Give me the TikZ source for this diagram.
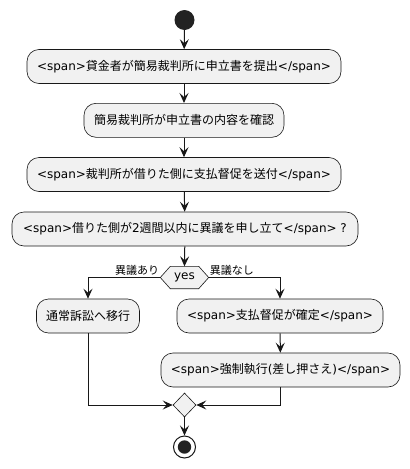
\documentclass[tikz,border=0pt]{standalone}
\usepackage{fontspec}
\setmainfont{DejaVu Sans}
\newfontfamily\cjkfont{Noto Sans CJK JP}
\newcommand\jp[1]{{\cjkfont #1}}
\usetikzlibrary{arrows.meta,shapes.geometric}
\definecolor{actfill}{HTML}{F1F1F1}
\definecolor{linecol}{HTML}{181818}
\definecolor{dotcol}{HTML}{222222}
\begin{document}
\begin{tikzpicture}[x=1pt,y=-1pt,
  act/.style={draw=linecol, fill=actfill, rounded corners=12pt, line width=0.6pt,
    minimum height=34pt, inner sep=0pt, font=\fontsize{12}{14}\selectfont},
  flow/.style={draw=linecol, line width=1pt, -{Stealth[length=10pt,width=9pt,inset=4pt]}},
  plain/.style={draw=linecol, line width=1pt},
  lab/.style={font=\fontsize{11}{13}\selectfont, inner sep=1pt},
  startdot/.style={circle, fill=dotcol, minimum size=20pt, inner sep=0pt},
  enddot/.style={circle, draw=linecol, fill=white, line width=1pt, minimum size=22pt, inner sep=0pt},
  merge/.style={diamond, draw=linecol, fill=actfill, line width=0.6pt, minimum width=23pt, minimum height=24pt, inner sep=0pt},
  hexnode/.style={minimum width=48pt, minimum height=22pt, inner sep=0pt, font=\fontsize{12}{14}\selectfont}
]
\useasboundingbox (0,0) rectangle (410,469);

\node[startdot] (s) at (184.5,20) {};
\node[act, minimum width=314pt] (a1) at (184,66.5) {<span>\jp{貸金者が簡易裁判所に申立書を提出}</span>};
\node[act, minimum width=200pt] (a2) at (184,120.3) {\jp{簡易裁判所が申立書の内容を確認}};
\node[act, minimum width=314pt] (a3) at (184,174.5) {<span>\jp{裁判所が借りた側に支払督促を送付}</span>};
\node[act, minimum width=346pt] (a4) at (185,229) {<span>\jp{借りた側が}2\jp{週間以内に異議を申し立て}</span> ?};

\node[hexnode] (d) at (184.5,277.5) {yes};
\draw[plain, fill=actfill, line width=0.6pt] (d.west) -- ([xshift=10pt]d.north west) -- ([xshift=-10pt]d.north east)
  -- (d.east) -- ([xshift=-10pt]d.south east) -- ([xshift=10pt]d.south west) -- cycle;
\node[hexnode] at (d.center) {yes};

\node[act, minimum width=103pt] (l1) at (88,316) {\jp{通常訴訟へ移行}};
\node[act, minimum width=206pt] (r1) at (280,316) {<span>\jp{支払督促が確定}</span>};
\node[act, minimum width=239pt] (r2) at (280.5,370) {<span>\jp{強制執行}(\jp{差し押さえ})</span>};

\node[merge] (m) at (184.5,405) {};
\node[enddot] (e) at (184.5,447) {};
\fill[dotcol] (e.center) circle (6.7pt);

\node[lab, anchor=south east] (ly) at ([yshift=1pt]d.west) {\jp{異議あり}};
\node[lab, anchor=south west] (ln) at ([yshift=1pt]d.east) {\jp{異議なし}};

\draw[flow] (s) -- (a1);
\draw[flow] (a1) -- (a2);
\draw[flow] (a2) -- (a3);
\draw[flow] (a3) -- (a4);
\draw[flow] (a4) -- (d.north);
\draw[flow] (d.west) -| (l1.north);
\draw[flow] (d.east) -| (r1.north);
\draw[flow] (r1) -- (r2);
\draw[flow] (l1.south) |- (m.west);
\draw[flow] (r2.south) |- (m.east);
\draw[flow] (m) -- (e);
\end{tikzpicture}
\end{document}
